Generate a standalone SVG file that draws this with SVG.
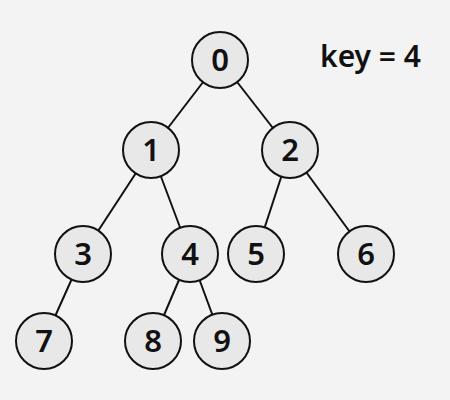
<svg xmlns="http://www.w3.org/2000/svg" width="450" height="400" viewBox="0 0 450 400">
<style>
.bg{fill:#f3f3f3}
.edge{stroke:#111;stroke-width:2;fill:none}
.node circle{fill:#e8e8e8;stroke:#111;stroke-width:2}
.node text{font-family:"Noto Sans","DejaVu Sans",sans-serif;font-size:31px;font-weight:600;fill:#111;text-anchor:middle}
.label{font-family:"Noto Sans","DejaVu Sans",sans-serif;font-size:30px;font-weight:600;fill:#111}
</style>
<rect class="bg" x="0" y="0" width="450" height="400"/>
<g id="edges">
<line class="edge" x1="220" y1="60" x2="151" y2="150"/>
<line class="edge" x1="220" y1="60" x2="290" y2="150"/>
<line class="edge" x1="151" y1="150" x2="83" y2="254"/>
<line class="edge" x1="151" y1="150" x2="190" y2="254"/>
<line class="edge" x1="290" y1="150" x2="256" y2="254"/>
<line class="edge" x1="290" y1="150" x2="366" y2="254"/>
<line class="edge" x1="83" y1="254" x2="44" y2="341"/>
<line class="edge" x1="190" y1="254" x2="153" y2="341"/>
<line class="edge" x1="190" y1="254" x2="222" y2="341"/>
</g>
<g id="node0" class="node"><circle cx="220" cy="60" r="28"/><text x="220" y="71">0</text></g>
<g id="node1" class="node"><circle cx="151" cy="150" r="28"/><text x="151" y="161">1</text></g>
<g id="node2" class="node"><circle cx="290" cy="150" r="28"/><text x="290" y="161">2</text></g>
<g id="node3" class="node"><circle cx="83" cy="254" r="28"/><text x="83" y="265">3</text></g>
<g id="node4" class="node"><circle cx="190" cy="254" r="28"/><text x="190" y="265">4</text></g>
<g id="node5" class="node"><circle cx="256" cy="254" r="28"/><text x="256" y="265">5</text></g>
<g id="node6" class="node"><circle cx="366" cy="254" r="28"/><text x="366" y="265">6</text></g>
<g id="node7" class="node"><circle cx="44" cy="341" r="28"/><text x="44" y="352">7</text></g>
<g id="node8" class="node"><circle cx="153" cy="341" r="28"/><text x="153" y="352">8</text></g>
<g id="node9" class="node"><circle cx="222" cy="341" r="28"/><text x="222" y="352">9</text></g>
<text class="label" x="320" y="67">key = 4</text>
</svg>
